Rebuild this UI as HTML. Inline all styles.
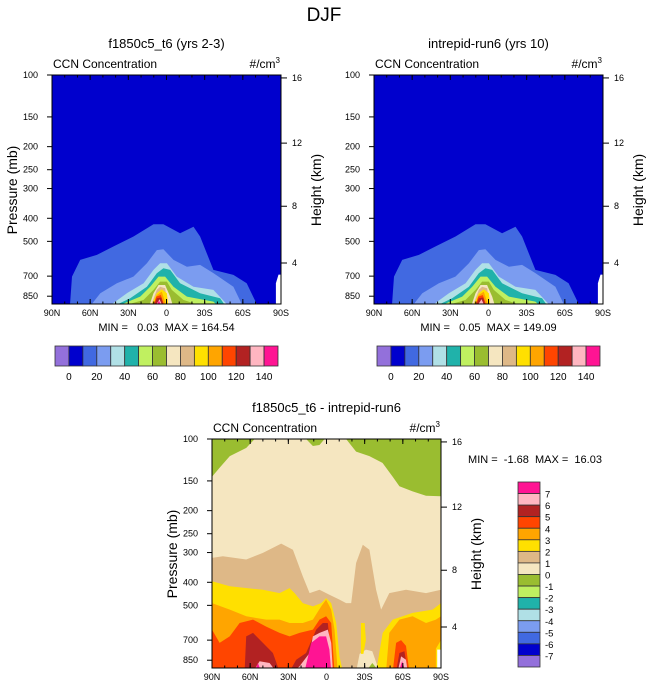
<!DOCTYPE html>
<html><head><meta charset="utf-8">
<style>
html,body{margin:0;padding:0;background:#fff;}
svg{display:block;font-family:"Liberation Sans",Arial,sans-serif;}
.pre{white-space:pre;}
</style></head>
<body>
<svg id="fig" width="648" height="694" viewBox="0 0 648 694" xmlns="http://www.w3.org/2000/svg">
<text x="324" y="21" font-size="19" text-anchor="middle">DJF</text>
</svg>
<script>
// ---------- data ----------
const latTicks = ["90N","60N","30N","0","30S","60S","90S"];
const latTickVals = [90,60,30,0,-30,-60,-90];
const presTicks = [100,150,200,250,300,400,500,700,850];
const heightTicks = [16,12,8,4];
const topLevelLabels = ["0","20","40","60","80","100","120","140"];
const diffLevelLabels = ["7","6","5","4","3","2","1","0","-1","-2","-3","-4","-5","-6","-7"];
const palette = ["#9370DB","#0000CD","#4169E1","#7B9CF0","#B0E0E6","#20B2AA","#C0F060","#9ABD30","#F5E6C0","#DEB887","#FFE000","#FFA500","#FF4500","#B22222","#FFB6C1","#FF1493"];

// top panel contours (lat, pressure mb) for levels 10..140
const t10Lat=[76,74.3,67.8,54.7,41.6,25.9,10.2,2.4,-10.7,-21.2,-26.4,-36.9,-52.6,-63,-70.9,-72];
const t10P=[950,703,598,570,525,477,424,424,462,434,477,659,692,750,917,950];
const t20Lat=[61,52,39,26,15.4,7.6,2.4,-5.5,-16,-26.4,-37,-52.6,-60.5];
const t20P=[950,826,750,703,618,544,540,598,639,628,681,775,950];
const t30Lat=[46.8,31.1,18,10.2,5,-0.3,-8.1,-21.2,-36.9,-50];
const t30P=[950,826,750,659,618,618,703,775,800,950];
const t40Lat=[44,28.5,15.4,7.6,2.4,-2.9,-10.7,-26.4,-42.1,-47.3];
const t40P=[950,867,775,681,649,659,750,826,867,950];
const t50Lat=[41.6,20.7,12.8,6.3,1.1,-5.5,-16,-36.9,-42.1];
const t50P=[950,853,775,703,703,775,853,896,950];
const t60Lat=[39,18,10.2,5,-0.3,-4.2,-13.3,-31.6];
const t60P=[950,881,800,738,738,800,881,950];
const t70Lat=[14,10.2,6.3,1.1,-2.9,-5.5];
const t70P=[950,826,763,763,853,950];
const t80Lat=[12.8,7.6,5,1.1,-1.6];
const t80P=[950,800,775,787,950];
const t90Lat=[12.8,7.6,3.7,-0.3,-1.6];
const t90P=[950,826,795,826,950];
const t100Lat=[11.5,7.6,3.7,-0.3];
const t100P=[950,840,813,950];
const t110Lat=[10.7,8.1,4.5,1.1];
const t110P=[950,853,840,950];
const t120Lat=[10.2,7.6,4.2,1.8];
const t120P=[950,867,861,950];
const t130Lat=[9.7,5.5,2.4];
const t130P=[950,875,950];
const t140Lat=[8.9,6,3.1];
const t140P=[950,887,950];
const missLat=[-86,-86,-88,-90,-90];
const missP=[950,750,690,690,950];

// difference panel contours
const gA_Lat=[90,90,84,76,63,52.6,52.6]; const gA_P=[90,144,132,118,109,95,90];
const gB_Lat=[16,16,10.7,5.5,1.6,1.6]; const gB_P=[90,100,107,106,100,90];
const gC_Lat=[-15.4,-15.4,-23.3,-33.7,-44,-52,-57.3,-67.7,-78.2,-90,-90]; const gC_P=[90,100,113,118,126,144,158,166,173,174,90];
const tanLat=[90,81.4,63.1,50,35.6,26.4,18.6,13.3,5.5,-2.3,-10.2,-15.4,-19.4,-23.3,-28.5,-33.7,-39,-42.9,-49.4,-62.5,-78.2,-90,-90,90];
const tanP=[316,311,321,301,275,292,378,444,430,451,473,489,489,332,278,292,430,521,444,430,444,430,950,950];
const bgPatchLat=[-23.3,-26,-31,-36,-41.6]; const bgPatchP=[950,800,767,780,950];
const gD_Lat=[-31,-36,-41.6]; const gD_P=[950,873,950];
const yA_Lat=[90,90,76,50,36.9,29,25.1,18.6,10.7,4.2,0.3,-3.7,-7.6,-10.2,-12.8];
const yA_P=[950,396,416,430,444,423,444,489,505,489,466,489,593,819,950];
const yB_Lat=[-39,-44.2,-52,-67.7,-83.4,-90,-90]; const yB_P=[950,653,574,538,521,489,950];
const yC_Lat=[-27,-27,-30,-31,-29]; const yC_P=[800,593,593,700,800];
const oA_Lat=[90,90,76,63,47.4,36.9,29,18.6,10.7,4.2,0.3,-3.7,-6.3,-8.9];
const oA_P=[950,489,521,556,574,574,593,593,574,505,473,521,632,950];
const oB_Lat=[-46.8,-49.4,-57.3,-67.7,-78.2,-86,-90,-90,-86,-86]; const oB_P=[950,653,574,556,593,574,556,700,760,950];
const rA_Lat=[90,90,84,76.1,68.3,57.8,47.4,36.9,29,21.2,10.7,5.5,0.3,-3.7,-6.3];
const rA_P=[950,632,719,675,593,574,614,653,675,653,632,574,556,593,950];
const rB_Lat=[-52,-54.7,-58.6,-62.5,-65.1]; const rB_P=[950,719,700,740,950];
const fA_Lat=[64.4,63.1,57.8,50,42.1,36.9]; const fA_P=[950,675,653,719,793,950];
const fB_Lat=[29,23.8,16,8.1,2.9,-1,-5]; const fB_P=[950,846,793,632,593,593,950];
const fC_Lat=[-54.7,-57.3,-61.2,-63.8]; const fC_P=[950,793,780,950];
const pA_Lat=[57.8,52.6,44.7,39.5]; const pA_P=[950,859,873,950];
const pB_Lat=[26.4,21.2,13.3,10.7,5.5,-1,-3.7,-5]; const pB_P=[950,902,793,675,653,632,719,950];
const pC_Lat=[-56,-58.6,-62.5,-63.8]; const pC_P=[950,819,846,950];
const dA_Lat=[17.3,12,5.5,0.3,-2.3,-3.7]; const dA_P=[950,719,675,675,767,950];
const dB_Lat=[56.5,53.9,51.3]; const dB_P=[950,873,950];
const dC_Lat=[-56.8,-59.4,-62]; const dC_P=[950,859,950];
const wLat=[-87,-87,-90,-90]; const wP=[950,767,767,950];

// ---------- drawing ----------
const NS="http://www.w3.org/2000/svg";
const svg=document.getElementById("fig");
function mk(tag,attrs,parent){const e=document.createElementNS(NS,tag);for(const k in attrs)e.setAttribute(k,attrs[k]);(parent||svg).appendChild(e);return e;}
function txt(x,y,s,size,anchor,parent){const t=mk("text",{x:x,y:y,"font-size":size,"text-anchor":anchor||"start"},parent);t.textContent=s;return t;}
const PW=229,PH=229,PK=238;
function xScale(ox,lat){return ox+(90-lat)/180*PW;}
function yScale(oy,p){return oy+PK*Math.log10(p/100);}
function hToP(km){const z=km*1000;return z<=11000?1013.25*Math.pow(1-2.25577e-5*z,5.25588):226.32*Math.exp(-(z-11000)/6341.6);}
let clipN=0;
function panel(ox,oy,bg,polys,title,minmax,id,showY){
  const g=mk("g",{});
  
  
  clipN++;
  const cp=mk("clipPath",{id:"c"+clipN},g);mk("rect",{x:ox,y:oy,width:PW,height:PH},cp);
  const pg=mk("g",{"clip-path":"url(#c"+clipN+")"},g);
  const bgr=mk("rect",{x:ox,y:oy,width:PW,height:PH,fill:bg},pg);
  
  
  polys.forEach((pl,i)=>{
    const pts=pl.lat.map((la,j)=>xScale(ox,la).toFixed(1)+","+yScale(oy,pl.p[j]).toFixed(1)).join(" ");
    const el=mk("polygon",{points:pts,fill:pl.c},pg);
    
    
  });
  mk("rect",{x:ox,y:oy,width:PW,height:PH,fill:"none",stroke:"#000","stroke-width":1},g);
  latTickVals.forEach((v,i)=>{
    const x=xScale(ox,v);
    mk("line",{x1:x,y1:oy+PH,x2:x,y2:oy+PH-5,stroke:"#000"},g);
    mk("line",{x1:x,y1:oy,x2:x,y2:oy+5,stroke:"#000"},g);
    const t=txt(x,oy+PH+12,latTicks[i],9,"middle",g);
    
    
  });
  for(let v=90;v>=-90;v-=10){const x=xScale(ox,v);mk("line",{x1:x,y1:oy+PH,x2:x,y2:oy+PH-2.5,stroke:"#000"},g);mk("line",{x1:x,y1:oy,x2:x,y2:oy+2.5,stroke:"#000"},g);}
  presTicks.forEach(p=>{
    const y=yScale(oy,p);
    mk("line",{x1:ox-5,y1:y,x2:ox,y2:y,stroke:"#000"},g);
    const t=txt(ox-14,y+3,String(p),9,"end",g);
    
    
  });
  heightTicks.forEach(h=>{
    const y=yScale(oy,hToP(h));
    mk("line",{x1:ox+PW,y1:y,x2:ox+PW+6,y2:y,stroke:"#000"},g);
    const t=txt(ox+PW+11,y+3,String(h),9,"start",g);
    
    
  });
  if(showY){
    const yl=txt(0,0,"Pressure (mb)",14,"middle",g);
    yl.setAttribute("transform","translate("+(ox-35)+","+(oy+115)+") rotate(-90)");
    
    
  }
  const hl=txt(0,0,"Height (km)",14,"middle",g);
  hl.setAttribute("transform","translate("+(ox+PW+40)+","+(oy+115)+") rotate(-90)");
  
  
  const cc=txt(ox+1,oy-7,"CCN Concentration",12,"start",g);
  
  
  const un=mk("text",{x:ox+PW-1,y:oy-7,"font-size":12,"text-anchor":"end"},g);
  un.innerHTML='#/cm<tspan font-size="8" dy="-5">3</tspan>';
  
  
  const tt=txt(ox+PW/2,oy-27,title,13,"middle",g);
  
  
  if(minmax){const m=mk("text",{x:ox+PW/2,y:oy+PH+27,"font-size":11,"text-anchor":"middle","class":"pre"},g);m.textContent=minmax;
    
    }
}
function topPolys(full){
  const L=[[t10Lat,t10P],[t20Lat,t20P],[t30Lat,t30P],[t40Lat,t40P],[t50Lat,t50P],[t60Lat,t60P],[t70Lat,t70P],[t80Lat,t80P],[t90Lat,t90P],[t100Lat,t100P],[t110Lat,t110P],[t120Lat,t120P],[t130Lat,t130P],[t140Lat,t140P]];
  const out=L.slice(0,full?14:13).map((a,i)=>({lat:a[0],p:a[1],c:palette[i+2],n:"level-"+((i+1)*10)}));
  out.push({lat:missLat,p:missP,c:"#fff",n:"missing"});
  return out;
}
const PAL={g:"#9ABD30",b:"#F5E6C0",t:"#DEB887",y:"#FFE000",o:"#FFA500",r:"#FF4500",f:"#B22222",p:"#FFB6C1",d:"#FF1493"};
const diffPolys=[
 {lat:gA_Lat,p:gA_P,c:PAL.g,n:"neg1-a"},{lat:gB_Lat,p:gB_P,c:PAL.g,n:"neg1-b"},{lat:gC_Lat,p:gC_P,c:PAL.g,n:"neg1-c"},
 {lat:tanLat,p:tanP,c:PAL.t,n:"level-1"},{lat:bgPatchLat,p:bgPatchP,c:PAL.b,n:"level-0-patch"},{lat:gD_Lat,p:gD_P,c:PAL.g,n:"neg1-d"},
 {lat:yA_Lat,p:yA_P,c:PAL.y,n:"level-2-a"},{lat:yB_Lat,p:yB_P,c:PAL.y,n:"level-2-b"},{lat:yC_Lat,p:yC_P,c:PAL.y,n:"level-2-c"},
 {lat:oA_Lat,p:oA_P,c:PAL.o,n:"level-3-a"},{lat:oB_Lat,p:oB_P,c:PAL.o,n:"level-3-b"},
 {lat:rA_Lat,p:rA_P,c:PAL.r,n:"level-4-a"},{lat:rB_Lat,p:rB_P,c:PAL.r,n:"level-4-b"},
 {lat:fA_Lat,p:fA_P,c:PAL.f,n:"level-5-a"},{lat:fB_Lat,p:fB_P,c:PAL.f,n:"level-5-b"},{lat:fC_Lat,p:fC_P,c:PAL.f,n:"level-5-c"},
 {lat:pA_Lat,p:pA_P,c:PAL.p,n:"level-6-a"},{lat:pB_Lat,p:pB_P,c:PAL.p,n:"level-6-b"},{lat:pC_Lat,p:pC_P,c:PAL.p,n:"level-6-c"},
 {lat:dA_Lat,p:dA_P,c:PAL.d,n:"level-7-a"},{lat:dB_Lat,p:dB_P,c:PAL.d,n:"level-7-b"},{lat:dC_Lat,p:dC_P,c:PAL.d,n:"level-7-c"},
 {lat:wLat,p:wP,c:"#fff",n:"missing"}];

panel(52,75,"#0000CD",topPolys(true),"f1850c5_t6 (yrs 2-3)","MIN =   0.03  MAX = 164.54","left",true);
panel(374,75,"#0000CD",topPolys(false),"intrepid-run6 (yrs 10)","MIN =   0.05  MAX = 149.09","right",false);
panel(212,439,"#F5E6C0",diffPolys,"f1850c5_t6 - intrepid-run6",null,"diff",true);
const mm=mk("text",{x:535,y:463,"font-size":11,"text-anchor":"middle","class":"pre"});
mm.textContent="MIN =  -1.68  MAX =  16.03";



function hbar(x0,y0,id){
  const w=223/16;
  palette.forEach((c,i)=>{
    const r=mk("rect",{x:x0+i*w,y:y0,width:w,height:20,fill:c,stroke:"#333","stroke-width":0.8});
    
    
  });
  topLevelLabels.forEach((s,i)=>{
    const t=txt(x0+(2*i+1)*w,y0+34,s,10,"middle");
    
    
  });
}
hbar(55,346,"left");
hbar(377,346,"right");
(function(){
  const x0=518,y0=482,h=185/16;
  palette.slice().reverse().forEach((c,i)=>{
    const r=mk("rect",{x:x0,y:y0+i*h,width:22,height:h,fill:c,stroke:"#333","stroke-width":0.8});
    
    
  });
  diffLevelLabels.forEach((s,i)=>{
    const t=txt(545,y0+(i+1)*h+4,s,9.5,"start");
    
    
  });
})();
</script>
</body></html>
